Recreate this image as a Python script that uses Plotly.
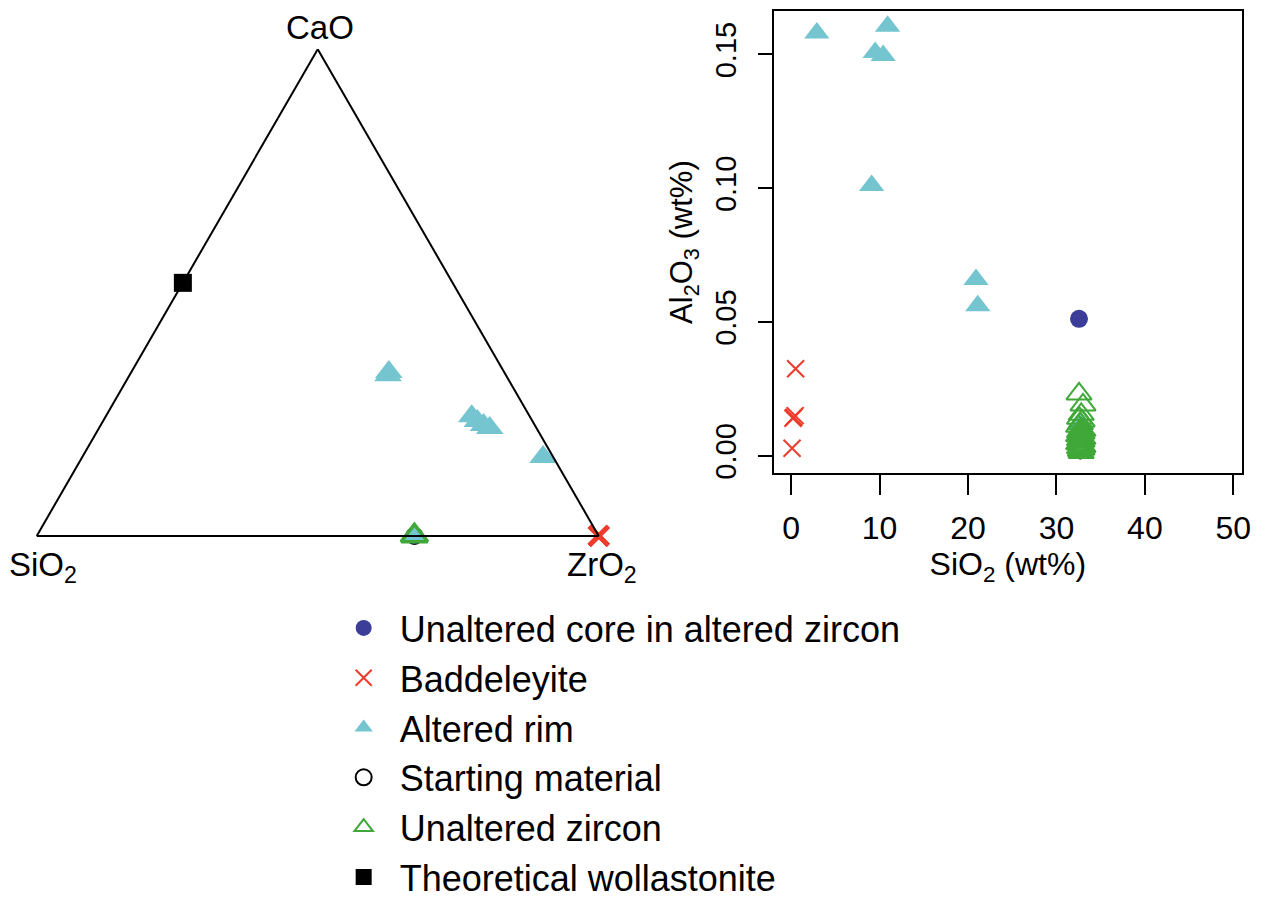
import plotly.graph_objects as go

# ---------------- data ----------------
# Ternary (fractions): a = CaO, b = SiO2, c = ZrO2
tern_rim_cao = [0.337, 0.330, 0.246, 0.236, 0.228, 0.222, 0.162, 0.0]
tern_rim_sio2 = [0.205, 0.210, 0.103, 0.098, 0.091, 0.083, 0.018, 0.328]
tern_rim_zro2 = [0.458, 0.460, 0.651, 0.666, 0.681, 0.695, 0.820, 0.672]

tern_zircon = {"CaO": [0.0], "SiO2": [0.328], "ZrO2": [0.672]}
tern_badd = {"CaO": [0.0, 0.0, 0.0], "SiO2": [0.0, 0.0, 0.0], "ZrO2": [1.0, 1.0, 1.0]}
tern_woll = {"CaO": [0.52], "SiO2": [0.48], "ZrO2": [0.0]}

# Right panel: SiO2 (wt%) vs Al2O3 (wt%)
rim_sio2 = [2.9, 10.9, 9.5, 10.4, 9.1, 20.9, 21.1, 32.8]
rim_al2o3 = [0.158, 0.1605, 0.1507, 0.1496, 0.101, 0.0659, 0.0561, 0.012]

core_sio2 = [32.55]
core_al2o3 = [0.0512]

badd_sio2 = [0.5, 0.3, 0.45, 0.2, 0.1]
badd_al2o3 = [0.0325, 0.0144, 0.0150, 0.0140, 0.0028]

start_sio2 = [32.6, 32.7]
start_al2o3 = [0.003, 0.002]

zircon_sio2 = [32.55, 33.0, 32.8, 32.6, 32.9, 32.7, 32.5, 32.8, 33.0, 32.6,
               32.9, 32.7, 32.5, 32.8, 33.0, 32.6, 32.9, 32.7, 32.5, 32.8,
               33.0, 32.6, 32.9, 32.7, 32.8]
zircon_al2o3 = [0.0231, 0.019, 0.0155, 0.014, 0.013, 0.012, 0.011, 0.010, 0.0095, 0.009,
                0.0085, 0.008, 0.0075, 0.007, 0.0065, 0.006, 0.0055, 0.005, 0.0045, 0.004,
                0.0035, 0.003, 0.0025, 0.002, 0.0012]

x_ticks = [0, 10, 20, 30, 40, 50]
y_ticks = [0.00, 0.05, 0.10, 0.15]

# ---------------- style ----------------
C_CORE = "#3B3D98"
C_BADD = "#EE3B2B"
C_RIM = "#74C5CF"
C_ZIRC = "#3FA838"
FONT = "Liberation Sans, Arial, sans-serif"

fig = go.Figure()

# ---- ternary traces ----
fig.add_trace(go.Scatterternary(
    a=tern_woll["CaO"], b=tern_woll["SiO2"], c=tern_woll["ZrO2"], mode="markers",
    marker=dict(symbol="square", size=18, color="black"),
    name="Theoretical wollastonite", legendgroup="woll", legendrank=6, cliponaxis=False))
fig.add_trace(go.Scatterternary(
    a=tern_zircon["CaO"], b=tern_zircon["SiO2"], c=tern_zircon["ZrO2"], mode="markers",
    marker=dict(symbol="circle-open", size=16, color="black", line=dict(width=2)),
    name="Starting material", legendgroup="start", showlegend=False, cliponaxis=False))
fig.add_trace(go.Scatterternary(
    a=tern_zircon["CaO"], b=tern_zircon["SiO2"], c=tern_zircon["ZrO2"], mode="markers",
    marker=dict(symbol="circle", size=16, color=C_CORE),
    name="Unaltered core in altered zircon", legendgroup="core", showlegend=False, cliponaxis=False))
fig.add_trace(go.Scatterternary(
    a=tern_rim_cao, b=tern_rim_sio2, c=tern_rim_zro2, mode="markers",
    marker=dict(symbol="triangle-up", size=24, color=C_RIM),
    name="Altered rim", legendgroup="rim", showlegend=False, cliponaxis=False))
fig.add_trace(go.Scatterternary(
    a=tern_zircon["CaO"], b=tern_zircon["SiO2"], c=tern_zircon["ZrO2"], mode="markers",
    marker=dict(symbol="triangle-up-open", size=23, color=C_ZIRC, line=dict(width=3.5)),
    name="Unaltered zircon", legendgroup="zirc", showlegend=False, cliponaxis=False))
fig.add_trace(go.Scatterternary(
    a=tern_badd["CaO"], b=tern_badd["SiO2"], c=tern_badd["ZrO2"], mode="markers",
    marker=dict(symbol="x-thin-open", size=19, color=C_BADD, line=dict(width=4.5, color=C_BADD)),
    name="Baddeleyite", legendgroup="badd", showlegend=False, cliponaxis=False))

# ---- cartesian traces ----
fig.add_trace(go.Scatter(
    x=start_sio2, y=start_al2o3, mode="markers",
    marker=dict(symbol="circle-open", size=16, color="black", line=dict(width=2)),
    name="Starting material", legendgroup="start", legendrank=4, cliponaxis=False))
fig.add_trace(go.Scatter(
    x=core_sio2, y=core_al2o3, mode="markers",
    marker=dict(symbol="circle", size=18, color=C_CORE),
    name="Unaltered core in altered zircon", legendgroup="core", legendrank=1, cliponaxis=False))
fig.add_trace(go.Scatter(
    x=rim_sio2, y=rim_al2o3, mode="markers",
    marker=dict(symbol="triangle-up", size=22, color=C_RIM),
    name="Altered rim", legendgroup="rim", legendrank=3, cliponaxis=False))
fig.add_trace(go.Scatter(
    x=zircon_sio2, y=zircon_al2o3, mode="markers",
    marker=dict(symbol="triangle-up-open", size=22, color=C_ZIRC, line=dict(width=2)),
    name="Unaltered zircon", legendgroup="zirc", legendrank=5, cliponaxis=False))
fig.add_trace(go.Scatter(
    x=badd_sio2, y=badd_al2o3, mode="markers",
    marker=dict(symbol="x-thin-open", size=17, color=C_BADD, line=dict(width=2, color=C_BADD)),
    name="Baddeleyite", legendgroup="badd", legendrank=2, cliponaxis=False))

tern_axis = dict(showticklabels=False, ticks="", showgrid=False, linecolor="black",
                 linewidth=2, title=dict(text=""), min=0)

fig.update_layout(
    width=1275, height=907,
    margin=dict(l=0, r=0, t=0, b=0),
    paper_bgcolor="white", plot_bgcolor="white",
    font=dict(family=FONT, color="black"),
    ternary=dict(
        domain=dict(x=[37/1275, 603/1275], y=[1-547/907, 1-50/907]),
        sum=1, bgcolor="white",
        aaxis=tern_axis, baxis=tern_axis, caxis=tern_axis,
    ),
    xaxis=dict(
        domain=[779/1275, 1251/1275], range=[-2.0, 51.0],
        tickvals=x_ticks, ticks="outside", ticklen=20, tickwidth=2, tickcolor="black",
        tickfont=dict(size=32), showline=True, linecolor="black", linewidth=2, mirror=True,
        showgrid=False, zeroline=False, ticklabelstandoff=5,
        title=dict(text="SiO<sub>2</sub> (wt%)", font=dict(size=32), standoff=8),
        anchor="y",
    ),
    yaxis=dict(
        domain=[1-483/907, 1-11/907], range=[-0.0066, 0.1663],
        tickvals=y_ticks, tickformat=".2f", ticks="outside", ticklen=14, tickwidth=2,
        tickcolor="black", tickfont=dict(size=29), tickangle=-90,
        showline=True, linecolor="black", linewidth=2, mirror=True,
        showgrid=False, zeroline=False, ticklabelstandoff=10,
        title=dict(text="Al<sub>2</sub>O<sub>3</sub> (wt%)", font=dict(size=31), standoff=8),
        anchor="x",
    ),
    legend=dict(
        x=330/1275, y=1-768/907, xanchor="left", yanchor="middle",
        font=dict(size=36, family=FONT), bgcolor="rgba(0,0,0,0)",
        tracegroupgap=0, itemwidth=62, traceorder="normal",
    ),
    annotations=[
        dict(text="CaO", x=322/1275, y=1-28/907, xref="paper", yref="paper",
             xanchor="center", yanchor="middle", showarrow=False, font=dict(size=33)),
        dict(text="SiO<sub>2</sub>", x=43/1275, y=1-578/907, xref="paper", yref="paper",
             xanchor="center", yanchor="middle", showarrow=False, font=dict(size=33)),
        dict(text="ZrO<sub>2</sub>", x=606/1275, y=1-578/907, xref="paper", yref="paper",
             xanchor="center", yanchor="middle", showarrow=False, font=dict(size=33)),
    ],
)

fig.write_html("out.html")
